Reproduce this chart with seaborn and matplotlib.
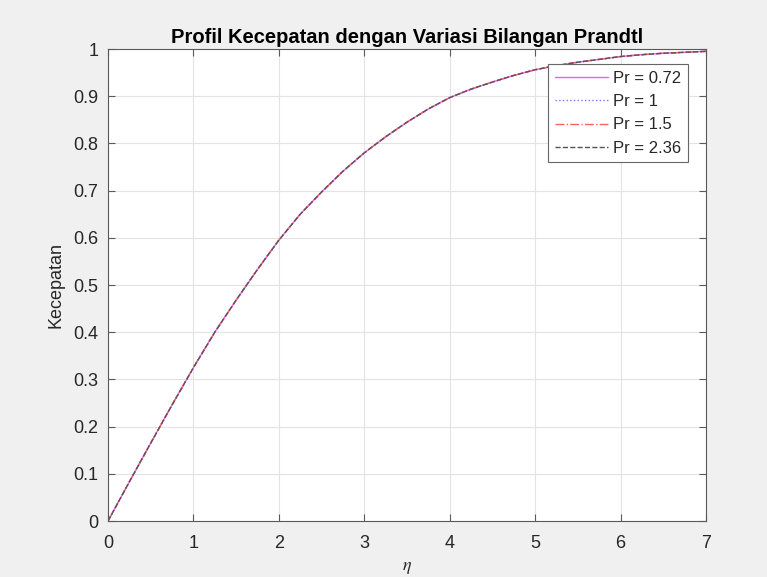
import numpy as np
import pandas as pd
import matplotlib
matplotlib.use("Agg")
import matplotlib.pyplot as plt
import seaborn as sns

# Similarity variable
eta = [0.0, 0.25, 0.5, 0.75, 1.0, 1.25, 1.5, 1.75, 2.0, 2.25, 2.5, 2.75, 3.0,
       3.25, 3.5, 3.75, 4.0, 4.25, 4.5, 4.75, 5.0, 5.25, 5.5, 5.75, 6.0,
       6.25, 6.5, 6.75, 7.0]

# Velocity profiles for each Prandtl number
u_pr072 = [0.0, 0.083, 0.165, 0.246, 0.325, 0.400, 0.468, 0.533, 0.595, 0.650,
           0.697, 0.741, 0.780, 0.814, 0.845, 0.873, 0.897, 0.915, 0.930, 0.944,
           0.956, 0.965, 0.972, 0.978, 0.984, 0.988, 0.991, 0.993, 0.995]
u_pr1 = list(u_pr072)
u_pr15 = list(u_pr072)
u_pr236 = list(u_pr072)

labels = ["Pr = 0.72", "Pr = 1", "Pr = 1.5", "Pr = 2.36"]
colors = ["#ff55ff", "#7777ff", "#ff6060", "#555555"]
styles = ["-", ":", "-.", "--"]

sns.set_theme(style="whitegrid")
plt.rcParams["font.family"] = ["Liberation Sans", "DejaVu Sans"]
plt.rcParams["mathtext.fontset"] = "stix"

fig = plt.figure(figsize=(7.67, 5.77), dpi=100, facecolor="#f0f0f0")
ax = fig.add_axes([108 / 767, 56 / 577, 598 / 767, 472 / 577])
ax.set_facecolor("white")

for vals, lab, col, ls in zip([u_pr072, u_pr1, u_pr15, u_pr236], labels, colors, styles):
    sns.lineplot(x=eta, y=vals, ax=ax, color=col, linestyle=ls, linewidth=1.0,
                 label=lab, sort=False)

ax.set_xlim(0, 7)
ax.set_ylim(0, 1)
ax.set_xticks(np.arange(0, 8, 1))
ax.set_yticks(np.arange(0, 1.01, 0.1))
ax.set_xticklabels([str(i) for i in range(8)])
ax.set_yticklabels(["0", "0.1", "0.2", "0.3", "0.4", "0.5", "0.6", "0.7", "0.8", "0.9", "1"])

ax.grid(True, color="#e3e3e3", linewidth=0.8)
for s in ax.spines.values():
    s.set_visible(True)
    s.set_color("#5a5a5a")
    s.set_linewidth(0.8)
ax.tick_params(axis="x", pad=10)
ax.tick_params(axis="y", pad=7)
ax.tick_params(axis="both", which="both", direction="in", length=5, width=0.8,
               color="#5a5a5a", labelcolor="#262626", labelsize=13,
               top=True, right=True, bottom=True, left=True)

ax.set_title("Profil Kecepatan dengan Variasi Bilangan Prandtl",
             fontsize=14.5, fontweight="bold", color="black", pad=4)
ax.set_xlabel(r"$\eta$", fontsize=13, color="#262626", labelpad=5)
ax.set_ylabel("Kecepatan", fontsize=13, color="#262626", labelpad=6)

leg = ax.legend(loc="upper right", bbox_to_anchor=(0.97, 0.968), borderaxespad=0,
                fontsize=12, frameon=True, fancybox=False, handlelength=3.2,
                handletextpad=0.3, labelspacing=0.5, borderpad=0.4)
leg.get_frame().set_edgecolor("#666666")
leg.get_frame().set_linewidth(0.8)
leg.get_frame().set_facecolor("white")
leg.get_frame().set_alpha(1.0)
for t in leg.get_texts():
    t.set_color("#262626")

fig.savefig("out.png", dpi=100, facecolor=fig.get_facecolor())
